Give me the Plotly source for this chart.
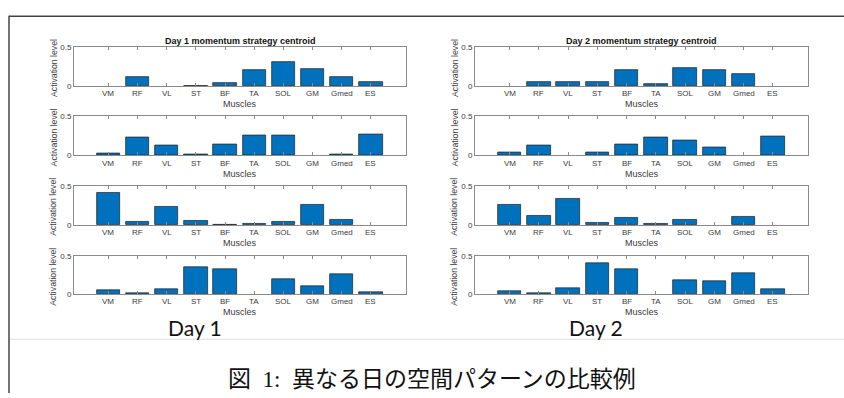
import plotly.graph_objects as go

W, H = 844, 398

muscles = ["VM", "RF", "VL", "ST", "BF", "TA", "SOL", "GM", "Gmed", "ES"]

day1_syn1 = [0.0, 0.11, 0.0, 0.006, 0.045, 0.21, 0.31, 0.225, 0.11, 0.054]
day1_syn2 = [0.03, 0.227, 0.134, 0.008, 0.139, 0.26, 0.252, 0.0, 0.008, 0.265]
day1_syn3 = [0.416, 0.034, 0.227, 0.055, 0.004, 0.017, 0.042, 0.26, 0.059, 0.0]
day1_syn4 = [0.056, 0.017, 0.068, 0.355, 0.333, 0.0, 0.192, 0.107, 0.265, 0.03]

day2_syn1 = [0.0, 0.05, 0.058, 0.05, 0.2, 0.025, 0.237, 0.204, 0.154, 0.0]
day2_syn2 = [0.042, 0.134, 0.0, 0.034, 0.147, 0.227, 0.189, 0.1, 0.0, 0.248]
day2_syn3 = [0.256, 0.118, 0.332, 0.021, 0.097, 0.013, 0.067, 0.0, 0.105, 0.0]
day2_syn4 = [0.043, 0.017, 0.085, 0.41, 0.333, 0.0, 0.184, 0.175, 0.278, 0.068]

titles = ["Day 1 momentum strategy centroid", "Day 2 momentum strategy centroid"]
day_labels = ["Day 1", "Day 2"]
caption_prefix = "図"
caption_number = "1:"
caption_text = "異なる日の空間パターンの比較例"

columns = [[day1_syn1, day1_syn2, day1_syn3, day1_syn4],
           [day2_syn1, day2_syn2, day2_syn3, day2_syn4]]

col_px = [(74, 406), (475, 808)]
row_px = [(44, 84), (115, 155), (186, 226), (258, 297)]

def fx(px):
    return px / W

def fy(py):
    return 1 - py / H

AXIS_COLOR = "#8a8a8a"
TEXT_COLOR = "#3a3a3a"
FONT = "Liberation Sans, Arial, sans-serif"

fig = go.Figure()
layout = {}
annotations = []
xpos = list(range(1, len(muscles) + 1))

k = 0
for c, series_list in enumerate(columns):
    x0, x1 = col_px[c]
    for r, vals in enumerate(series_list):
        k += 1
        y0, y1 = row_px[r]
        xa = "x" if k == 1 else f"x{k}"
        ya = "y" if k == 1 else f"y{k}"
        fig.add_trace(go.Bar(
            x=xpos, y=vals, width=0.8, xaxis=xa, yaxis=ya,
            marker=dict(color="#0072BD",
                        line=dict(color="#1f1f1f",
                                  width=[0.7 if v > 0 else 0 for v in vals])),
            showlegend=False, hoverinfo="x+y"))
        layout["xaxis" if k == 1 else f"xaxis{k}"] = dict(
            domain=[fx(x0), fx(x1)], anchor=ya, range=[-0.18, 11.2],
            tickmode="array", tickvals=xpos, showticklabels=False,
            ticks="inside", ticklen=3, tickcolor=AXIS_COLOR,
            showline=True, linecolor=AXIS_COLOR, linewidth=1, mirror="allticks",
            showgrid=False, zeroline=False, fixedrange=True)
        layout["yaxis" if k == 1 else f"yaxis{k}"] = dict(
            domain=[fy(y1), fy(y0)], anchor=xa, range=[0, 0.5],
            tickmode="array", tickvals=[0, 0.5], ticktext=["0", "0.5"],
            ticks="inside", ticklen=3, tickcolor=AXIS_COLOR,
            showline=True, linecolor=AXIS_COLOR, linewidth=1, mirror="allticks",
            showgrid=False, zeroline=False, fixedrange=True,
            tickfont=dict(family=FONT, size=8, color=TEXT_COLOR))
        # x tick labels (placed through the x axis scale)
        for xi, name in zip(xpos, muscles):
            annotations.append(dict(
                text=name, xref=xa, yref="paper", x=xi, y=fy(y1 + 7.8),
                xanchor="center", yanchor="middle", showarrow=False,
                font=dict(family=FONT, size=8, color=TEXT_COLOR)))
        # x label
        annotations.append(dict(
            text="Muscles", xref="paper", yref="paper",
            x=fx((x0 + x1) / 2), y=fy(y1 + 18.5), xanchor="center", yanchor="middle",
            showarrow=False, font=dict(family=FONT, size=9, color=TEXT_COLOR)))
        # y label
        annotations.append(dict(
            text="Activation level", xref="paper", yref="paper",
            x=fx(x0 - 20.5), y=fy((y0 + y1) / 2 + 2), xanchor="center", yanchor="middle",
            textangle=-90, showarrow=False,
            font=dict(family=FONT, size=8.7, color=TEXT_COLOR)))
        if r == 0:
            annotations.append(dict(
                text="<b>" + titles[c] + "</b>", xref="paper", yref="paper",
                x=fx((x0 + x1) / 2), y=fy(38), xanchor="center", yanchor="middle",
                showarrow=False, font=dict(family=FONT, size=9, color="#111111")))

# Day labels
for c, lab in enumerate(day_labels):
    cx = [195, 596][c]
    annotations.append(dict(
        text=lab, xref="paper", yref="paper", x=fx(cx), y=fy(331),
        xanchor="center", yanchor="middle", showarrow=False,
        font=dict(family="Lato, Open Sans, sans-serif", size=21, color="#111111")))

caption = (caption_prefix + "\u2002<span style='font-family:Liberation Serif'>"
           + caption_number + "</span>\u2002" + caption_text)
annotations.append(dict(
    text=caption, xref="paper", yref="paper", x=fx(432), y=fy(382),
    xanchor="center", yanchor="middle", showarrow=False,
    font=dict(family="Noto Sans CJK JP, sans-serif", size=23, color="#111111")))

shapes = [
    dict(type="line", xref="paper", yref="paper", x0=fx(9), x1=fx(9), y0=fy(12), y1=fy(398),
         line=dict(color="#444444", width=1.5)),
    dict(type="line", xref="paper", yref="paper", x0=fx(9), x1=fx(844), y0=fy(12.5), y1=fy(12.5),
         line=dict(color="#444444", width=1.5)),
    dict(type="line", xref="paper", yref="paper", x0=fx(10), x1=fx(844), y0=fy(343), y1=fy(343),
         line=dict(color="#dddddd", width=1)),
]

fig.update_layout(
    width=W, height=H, margin=dict(l=0, r=0, t=0, b=0),
    paper_bgcolor="white", plot_bgcolor="white",
    bargap=0, annotations=annotations, shapes=shapes,
    **layout)

fig.write_html("out.html", config={"displayModeBar": False})
